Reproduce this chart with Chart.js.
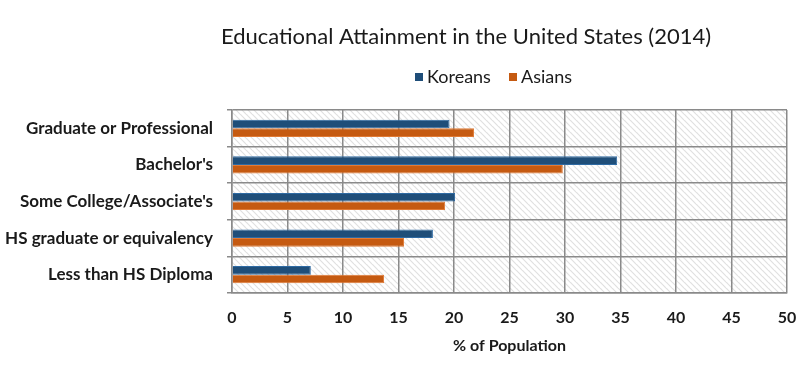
<!DOCTYPE html>
<html><head><meta charset="utf-8">
<script src="https://cdn.jsdelivr.net/npm/chart.js@4/dist/chart.umd.min.js"></script>
<style>html,body{margin:0;padding:0;background:#fff;}#wrap{width:800px;height:379px;position:relative;}</style>
</head><body><div id="wrap"><canvas id="c" width="800" height="379"></canvas></div>
<script>
const chartTitle = 'Educational Attainment in the United States (2014)';
const categories = ['Graduate or Professional', "Bachelor's", "Some College/Associate's", 'HS graduate or equivalency', 'Less than HS Diploma'];
const seriesNames = ['Koreans', 'Asians'];
const koreans = [19.6, 34.7, 20.1, 18.1, 7.1];
const asians = [21.8, 29.8, 19.2, 15.5, 13.7];
const xMin = 0, xMax = 50, xStep = 5;
const xAxisTitle = '% of Population';

const colors = ['#1f4e79', '#c55a11'];
const borders = ['#2e6aa3', '#e07a35'];
const FONT = 'Lato, "Open Sans", sans-serif';

function makeHatch() {
  const s = 6;
  const c = document.createElement('canvas');
  c.width = s; c.height = s;
  const g = c.getContext('2d');
  g.fillStyle = '#ffffff';
  g.fillRect(0, 0, s, s);
  g.strokeStyle = '#e0e0e0';
  g.lineWidth = 1.2;
  g.beginPath();
  g.moveTo(0, 0); g.lineTo(s, s);
  g.moveTo(-s, 0); g.lineTo(0, s);
  g.moveTo(s, -s); g.lineTo(2 * s, s);
  g.moveTo(0, -s); g.lineTo(s * 2, s);
  g.stroke();
  return c;
}

const bgPlugin = {
  id: 'hatchBg',
  beforeDraw(chart) {
    const { ctx, chartArea: a } = chart;
    ctx.save();
    ctx.fillStyle = ctx.createPattern(makeHatch(), 'repeat');
    ctx.fillRect(a.left, a.top, a.right - a.left, a.bottom - a.top);
    ctx.restore();
  }
};

const headerPlugin = {
  id: 'header',
  afterDraw(chart) {
    const ctx = chart.ctx;
    ctx.save();
    ctx.fillStyle = '#1a1a1a';
    ctx.font = '22px ' + FONT;
    ctx.textAlign = 'center';
    ctx.textBaseline = 'middle';
    ctx.fillText(chart.options.plugins.customHeader.title, 466, 37);
    // legend
    ctx.font = '18px ' + FONT;
    ctx.textAlign = 'left';
    const xs = [415, 509];
    chart.data.datasets.forEach((ds, i) => {
      ctx.fillStyle = ds.backgroundColor;
      ctx.fillRect(xs[i], 73, 8, 8);
      ctx.fillStyle = '#1a1a1a';
      ctx.fillText(ds.label, xs[i] + 12, 77);
    });
    ctx.restore();
  }
};

new Chart(document.getElementById('c'), {
  type: 'bar',
  data: {
    labels: categories,
    datasets: [
      { label: seriesNames[0], data: koreans, backgroundColor: colors[0], borderColor: borders[0], borderWidth: 1 },
      { label: seriesNames[1], data: asians, backgroundColor: colors[1], borderColor: borders[1], borderWidth: 1 }
    ]
  },
  options: {
    indexAxis: 'y',
    responsive: false,
    animation: false,
    layout: { padding: { top: 110, right: 0, bottom: 0, left: 0 } },
    datasets: { bar: { categoryPercentage: 0.47, barPercentage: 1.0 } },
    plugins: {
      legend: { display: false },
      title: { display: false },
      tooltip: { enabled: false },
      customHeader: { title: chartTitle }
    },
    scales: {
      x: {
        min: xMin, max: xMax,
        ticks: { stepSize: xStep, padding: 15, color: '#1a1a1a', font: { family: FONT, size: 16, weight: 'bold' } },
        grid: { color: '#8a8a8a', lineWidth: 1.5, drawTicks: false },
        border: { color: '#8a8a8a', width: 1.5 },
        title: { display: true, text: xAxisTitle, color: '#1a1a1a', font: { family: FONT, size: 16, weight: 'bold' }, padding: { top: 4, bottom: 24 } },
        afterFit(s) { s.height = 86; s.paddingRight = 13; s.paddingLeft = 0; }
      },
      y: {
        ticks: { padding: 14, color: '#1a1a1a', font: { family: FONT, size: 17, weight: 'bold' } },
        grid: { color: '#8a8a8a', lineWidth: 1.5, offset: true, tickLength: 5 },
        border: { color: '#8a8a8a', width: 1.5 },
        afterFit(s) { s.width = 232; }
      }
    }
  },
  plugins: [bgPlugin, headerPlugin]
});
</script>
</body></html>
